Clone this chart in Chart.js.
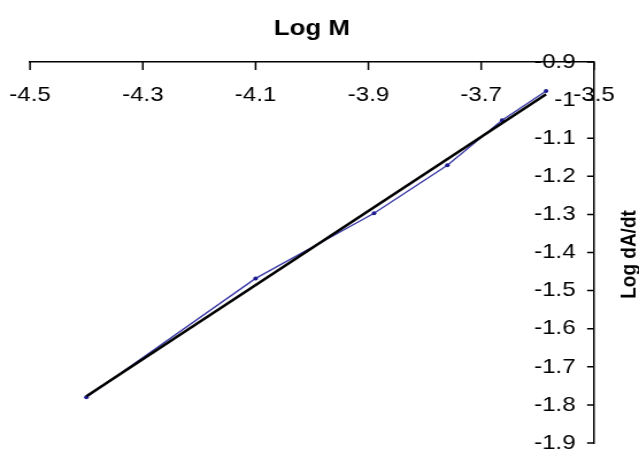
<!DOCTYPE html>
<html><head><meta charset="utf-8">
<script src="https://cdn.jsdelivr.net/npm/chart.js@4/dist/chart.umd.min.js"></script>
<style>
html,body{margin:0;padding:0;background:#fff;overflow:hidden;}
#wrap{width:556px;height:450px;transform:scaleX(1.14928);transform-origin:0 0;}
</style></head><body>
<div id="wrap"><canvas id="c"></canvas></div>
<script>
// ---- data ----
const logM    = [-4.4, -4.1, -3.89, -3.76, -3.663, -3.585];
const logRate = [-1.78, -1.468, -1.297, -1.171, -1.053, -0.976];
const xTicks  = [-4.5, -4.3, -4.1, -3.9, -3.7, -3.5];
const yTicks  = [-0.9, -1.0, -1.1, -1.2, -1.3, -1.4, -1.5, -1.6, -1.7, -1.8, -1.9];
const xTitle  = 'Log M';
const yTitle  = 'Log dA/dt';

// least-squares trendline through the data
const n = logM.length;
const mx = logM.reduce((a,b)=>a+b,0)/n, my = logRate.reduce((a,b)=>a+b,0)/n;
let sxy=0, sxx=0;
for (let i=0;i<n;i++){ sxy+=(logM[i]-mx)*(logRate[i]-my); sxx+=(logM[i]-mx)**2; }
const slope = sxy/sxx, icpt = my - slope*mx;
const xLo = Math.min(...logM), xHi = Math.max(...logM);
const trend = [{x:xLo, y:icpt+slope*xLo}, {x:xHi, y:icpt+slope*xHi}];

const S = 639/556;
const AREA = {left: 30/S, right: 594/S, top: 62, bottom: 443};
const FAM = '"Liberation Sans", Arial, sans-serif';
const fmt = v => String(Math.round(v*10)/10);

const innerTicks = {
  id:'innerTicks',
  afterDraw(chart){
    const {ctx, chartArea:a, scales:{x,y}} = chart;
    ctx.save();
    ctx.strokeStyle='#000'; ctx.lineWidth=1.5;
    ctx.beginPath();
    xTicks.forEach(v=>{const px=x.getPixelForValue(v); ctx.moveTo(px,a.top); ctx.lineTo(px,a.top+8);});
    yTicks.forEach(v=>{const py=y.getPixelForValue(v); ctx.moveTo(a.right-6,py); ctx.lineTo(a.right,py);});
    ctx.stroke();
    ctx.translate(629/S, (a.top+a.bottom)/2 + 2);
    ctx.rotate(-Math.PI/2);
    ctx.font='bold 19px '+FAM; ctx.textAlign='center'; ctx.textBaseline='middle'; ctx.fillStyle='#000';
    ctx.fillText(yTitle,0,0);
    ctx.restore();
  }
};

new Chart(document.getElementById('c'), {
  type:'scatter',
  data:{datasets:[
    {label:'trend', data:trend, showLine:true, borderColor:'#000', borderWidth:2.6, pointRadius:0, order:0},
    {label:'data', data:logM.map((x,i)=>({x, y:logRate[i]})), showLine:true, borderColor:'#3c3ca8', borderWidth:1.4,
     pointRadius:2, pointBackgroundColor:'#1c1c90', pointBorderWidth:0, order:1}
  ]},
  options:{
    responsive:true, maintainAspectRatio:false, animation:false,
    layout:{padding:{left:AREA.left, right:0, top:0, bottom:450-AREA.bottom}},
    plugins:{legend:{display:false}, tooltip:{enabled:false}},
    scales:{
      x:{type:'linear', position:'top', min:-4.5, max:-3.5,
         afterBuildTicks:s=>{s.ticks=xTicks.map(v=>({value:v}));},
         ticks:{mirror:true, padding:20.5, color:'#000', font:{family:FAM, size:21}, callback:fmt, maxRotation:0, autoSkip:false},
         grid:{drawOnChartArea:false, drawTicks:false},
         border:{display:true, color:'#000', width:1.5},
         title:{display:true, text:xTitle, color:'#000', font:{family:FAM, size:22.5, weight:'bold'}, padding:{top:15, bottom:0}},
         afterFit:s=>{s.height=AREA.top; s.paddingLeft=0; s.paddingRight=0; s.paddingTop=0; s.paddingBottom=0;}
      },
      y:{type:'linear', position:'right', min:-1.9, max:-0.9,
         afterBuildTicks:s=>{s.ticks=yTicks.map(v=>({value:v}));},
         ticks:{mirror:true, padding:-16, color:'#000', font:{family:FAM, size:21}, callback:fmt, autoSkip:false},
         grid:{drawOnChartArea:false, drawTicks:false},
         border:{display:true, color:'#000', width:1.5},
         afterFit:s=>{s.width=556-AREA.right; s.paddingLeft=0; s.paddingRight=0; s.paddingTop=0; s.paddingBottom=0;}
      }
    }
  },
  plugins:[innerTicks]
});
</script>
</body></html>
